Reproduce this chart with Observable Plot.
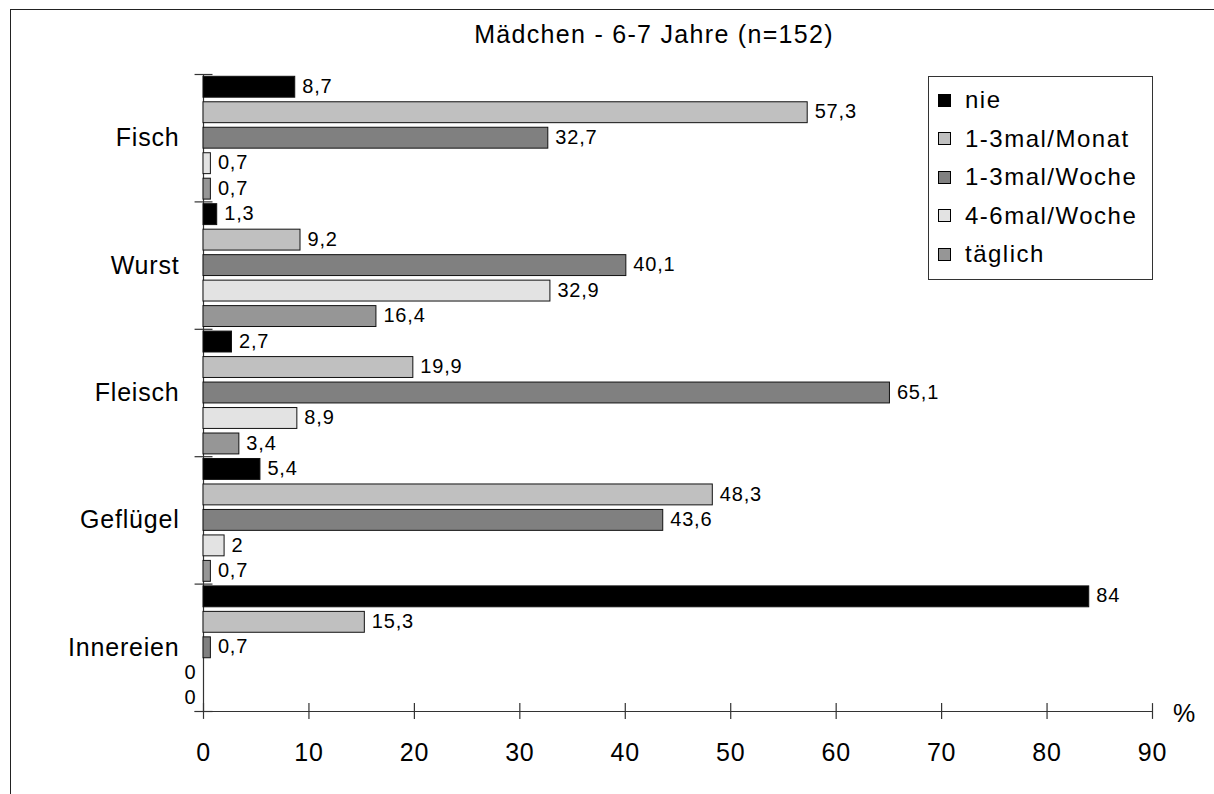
<!DOCTYPE html>
<html>
<head>
<meta charset="utf-8">
<script src="https://cdn.jsdelivr.net/npm/d3@7"></script>
<script src="https://cdn.jsdelivr.net/npm/@observablehq/plot@0.6"></script>
<style>
  html, body { margin: 0; padding: 0; background: #fff; }
  #wrap { position: relative; width: 1214px; height: 794px; overflow: hidden; font-family: "Liberation Sans", Arial, sans-serif; color: #000; }
  #border { position: absolute; left: 10px; top: 9px; width: 1300px; height: 900px; border-left: 1.5px solid #222; border-top: 1.5px solid #222; pointer-events: none; }
  #title { position: absolute; left: 454px; width: 400px; top: 22px; text-align: center; font-size: 25px; line-height: 25px; letter-spacing: 1.3px; white-space: nowrap; }
  #legend { position: absolute; left: 928px; top: 76px; width: 223px; height: 198px; border: 1px solid #333; background: #fff; padding-top: 4px; box-sizing: content-box; }
  .row { display: flex; align-items: center; height: 38.5px; }
  .sw { width: 11px; height: 11px; border: 1px solid #000; margin-left: 9px; margin-right: 14px; }
  .lab { font-size: 24px; letter-spacing: 1.5px; white-space: nowrap; }
  #chart { position: absolute; left: 0; top: 0; }
</style>
</head>
<body>
<div id="wrap">
  <div id="chart"></div>
  <div id="border"></div>
  <div id="title"></div>
  <div id="legend"></div>
</div>
<script>
const title = "Mädchen - 6-7 Jahre (n=152)";
const categories = ["Fisch", "Wurst", "Fleisch", "Geflügel", "Innereien"];
const series = ["nie", "1-3mal/Monat", "1-3mal/Woche", "4-6mal/Woche", "täglich"];
const colors = ["#000000", "#c0c0c0", "#808080", "#e3e3e3", "#969696"];
const nie      = [8.7, 1.3, 2.7, 5.4, 84];
const monat    = [57.3, 9.2, 19.9, 48.3, 15.3];
const woche13  = [32.7, 40.1, 65.1, 43.6, 0.7];
const woche46  = [0.7, 32.9, 8.9, 2, 0];
const taeglich = [0.7, 16.4, 3.4, 0.7, 0];
const xTicks = [0, 10, 20, 30, 40, 50, 60, 70, 80, 90];
const unit = "%";

const seriesValues = [nie, monat, woche13, woche46, taeglich];
const rows = [];
categories.forEach((c, ci) => {
  series.forEach((s, si) => {
    rows.push({cat: c, series: s, value: seriesValues[si][ci], i: ci * series.length + si});
  });
});
const nBars = rows.length;
const groupBounds = d3.range(0, nBars + 1, series.length);
const catRows = categories.map((c, ci) => ({cat: c, i: ci * series.length + Math.floor(series.length / 2)}));
const fmt = v => String(v).replace(".", ",");
const axisColor = "#333";

const plot = Plot.plot({
  width: 1214,
  height: 794,
  marginLeft: 203,
  marginRight: 62,
  marginTop: 74,
  marginBottom: 83,
  x: {domain: [0, 90], axis: null},
  y: {domain: [0, nBars], reverse: true, axis: null},
  color: {domain: series, range: colors},
  style: {fontFamily: "'Liberation Sans', Arial, sans-serif", color: "#000", background: "transparent", letterSpacing: "0.8px", overflow: "visible"},
  marks: [
    Plot.ruleX([0], {y1: 0, y2: nBars, stroke: axisColor, strokeWidth: 1.2}),
    Plot.ruleY([nBars], {x1: -0.8, x2: 90, stroke: axisColor, strokeWidth: 1.2}),
    Plot.ruleY(groupBounds, {y: d => d, x1: -0.8, x2: 0.9, stroke: axisColor, strokeWidth: 1.2}),
    Plot.ruleX(xTicks, {x: d => d, y1: nBars - 0.31, y2: nBars + 0.31, stroke: axisColor, strokeWidth: 1.2}),
    Plot.rect(rows.filter(d => d.value > 0), {
      x1: 0, x2: "value",
      y1: d => d.i + 0.09, y2: d => d.i + 0.91,
      fill: d => d.series, stroke: "#111", strokeWidth: 1
    }),
    Plot.text(rows.filter(d => d.value > 0), {
      x: "value", y: d => d.i + 0.47, text: d => fmt(d.value),
      dx: 7, textAnchor: "start", fontSize: 20, fill: "#000"
    }),
    Plot.text(rows.filter(d => d.value === 0), {
      x: 0, y: d => d.i + 0.47, text: d => fmt(d.value),
      dx: -7, textAnchor: "end", fontSize: 20, fill: "#000"
    }),
    Plot.text(catRows, {
      x: 0, y: d => d.i + 0.5, text: "cat",
      dx: -24, textAnchor: "end", fontSize: 25, fill: "#000"
    }),
    Plot.text(xTicks, {
      x: d => d, y: nBars, text: d => String(d),
      dy: 41.5, textAnchor: "middle", fontSize: 25, fill: "#000"
    }),
    Plot.text([unit], {
      x: 90, y: nBars, text: d => d,
      dx: 32, dy: 2, textAnchor: "middle", fontSize: 25, fill: "#000"
    })
  ]
});
document.getElementById("chart").appendChild(plot);
document.getElementById("title").textContent = title;

const legend = document.getElementById("legend");
series.forEach((s, si) => {
  const row = document.createElement("div");
  row.className = "row";
  const sw = document.createElement("div");
  sw.className = "sw";
  sw.style.background = colors[si];
  const lab = document.createElement("div");
  lab.className = "lab";
  lab.textContent = s;
  row.appendChild(sw);
  row.appendChild(lab);
  legend.appendChild(row);
});
</script>
</body>
</html>
